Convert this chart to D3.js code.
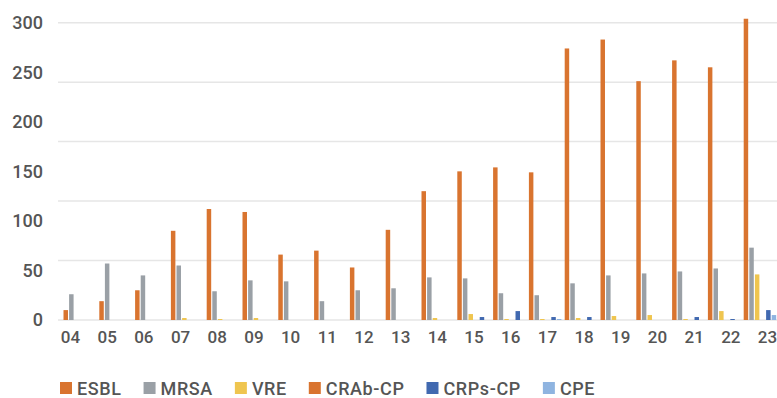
<!DOCTYPE html>
<html>
<head>
<meta charset="utf-8">
<script src="https://cdn.jsdelivr.net/npm/d3@7"></script>
<style>
  body { margin: 0; background: #fff; }
  svg { display: block; font-family: Roboto, "DejaVu Sans", sans-serif; }
</style>
</head>
<body>
<div id="chart"></div>
<script>
// 数据
const years = ["04", "05", "06", "07", "08", "09", "10", "11", "12", "13",
               "14", "15", "16", "17", "18", "19", "20", "21", "22", "23"];
const seriesNames = ["ESBL", "MRSA", "VRE", "CRAb-CP", "CRPs-CP", "CPE"];
const esbl   = [10, 19, 30, 90, 112, 109, 66, 70, 53, 91, 130, 150, 154, 149, 274, 283, 241, 262, 255, 304];
const mrsa   = [26, 57, 45, 55, 29, 40, 39, 19, 30, 32, 43, 42, 27, 25, 37, 45, 47, 49, 52, 73];
const vre    = [0, 0, 0, 2, 1, 2, 0, 0, 0, 0, 2, 6, 1, 1, 2, 4, 5, 1, 9, 46];
const crab   = [0, 0, 0, 0, 0, 0, 0, 0, 0, 0, 0, 0, 0, 0, 0, 0, 0, 0, 0, 0];
const crps   = [0, 0, 0, 0, 0, 0, 0, 0, 0, 0, 0, 3, 9, 3, 3, 0, 0, 3, 1, 10];
const cpe    = [0, 0, 0, 0, 0, 0, 0, 0, 0, 0, 0, 0, 0, 1, 0, 0, 0, 0, 0, 5];
const yTicks = [0, 50, 100, 150, 200, 250, 300];
const gridValues = [0, 60, 120, 180, 240, 300];

const colors = ["#d9742f", "#9aa0a6", "#efc54f", "#d9742f", "#4169b0", "#8fb4e0"];
const allSeries = [esbl, mrsa, vre, crab, crps, cpe];

// 设置图表的宽度和高度
const width = 777;
const height = 398;

// 创建SVG容器
const svg = d3.select("#chart")
    .append("svg")
    .attr("width", width)
    .attr("height", height);

// 比例尺
const yScale = d3.scaleLinear()
    .domain([0, 300])
    .range([320, 22.7]);

const xScale = d3.scaleBand()
    .domain(years)
    .range([61, 61 + 35.8 * years.length])
    .paddingInner(0);

const xInner = d3.scaleBand()
    .domain(seriesNames)
    .range([2.5, 35])
    .paddingInner(0.2);

// 标签位置（与柱子稍有错位）
const xLabel = d3.scalePoint()
    .domain(years)
    .range([70, 767]);

// 网格线
svg.append("g")
    .selectAll("line")
    .data(gridValues)
    .enter()
    .append("line")
    .attr("x1", 58)
    .attr("x2", width)
    .attr("y1", d => yScale(d))
    .attr("y2", d => yScale(d))
    .attr("stroke", "#e6e6e6")
    .attr("stroke-width", 1.5);

// 柱子
const groups = svg.append("g")
    .selectAll("g")
    .data(years)
    .enter()
    .append("g")
    .attr("transform", d => "translate(" + xScale(d) + ",0)");

groups.selectAll("rect")
    .data((d, i) => seriesNames.map((s, j) => ({ s: s, v: allSeries[j][i], c: colors[j] })))
    .enter()
    .append("rect")
    .filter(d => d.v > 0)
    .attr("x", d => xInner(d.s))
    .attr("y", d => yScale(d.v))
    .attr("width", xInner.bandwidth())
    .attr("height", d => yScale(0) - yScale(d.v))
    .attr("fill", d => d.c);

// Y轴
const yAxis = svg.append("g")
    .attr("transform", "translate(43,0)")
    .call(d3.axisLeft(yScale).tickValues(yTicks).tickSize(0).tickPadding(0));
yAxis.select(".domain").remove();
yAxis.selectAll("text")
    .attr("fill", "#555")
    .attr("font-size", 18)
    .attr("font-weight", 500)
    .attr("font-family", "Roboto, sans-serif");

// X轴
const xAxis = svg.append("g")
    .attr("transform", "translate(0,331)")
    .call(d3.axisBottom(xLabel).tickSize(0).tickPadding(0));
xAxis.select(".domain").remove();
xAxis.selectAll("text")
    .attr("fill", "#555")
    .attr("font-size", 17)
    .attr("font-weight", 500)
    .attr("font-family", "Roboto, sans-serif");

// 图例
const legend = svg.append("g").attr("transform", "translate(60,382)");
let lx = 0;
seriesNames.forEach((name, i) => {
    const item = legend.append("g").attr("transform", "translate(" + lx + ",0)");
    item.append("rect")
        .attr("width", 12)
        .attr("height", 12)
        .attr("fill", colors[i]);
    const t = item.append("text")
        .attr("x", 17)
        .attr("y", 12.5)
        .attr("fill", "#555")
        .attr("font-size", 18)
        .attr("font-weight", 500)
        .attr("letter-spacing", 0.6)
        .text(name);
    lx += 17 + t.node().getComputedTextLength() + 22;
});
</script>
</body>
</html>
